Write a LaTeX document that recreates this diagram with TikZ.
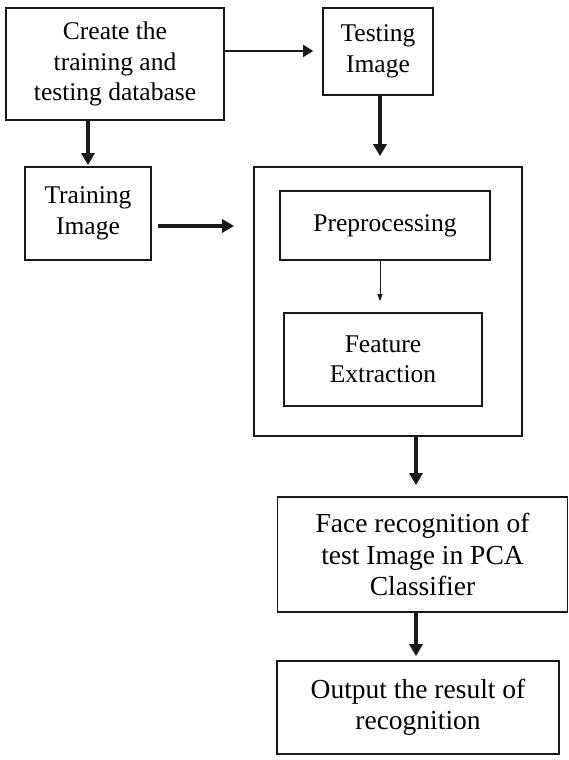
\documentclass[tikz,border=0pt]{standalone}
\usepackage{fontspec}
\setmainfont{Liberation Serif}
\usetikzlibrary{arrows.meta,calc}
\begin{document}
\begin{tikzpicture}[x=1pt,y=-1pt,
  box/.style={draw=black!90,line width=1.7pt,inner sep=0pt,align=center,
    font=\fontsize{25.5}{30.5}\selectfont},
  bbox/.style={box,font=\fontsize{27.5}{31.5}\selectfont},
  big/.style={line width=4.5pt,draw=black!90,-{Triangle[width=13pt,length=12pt]}},
  mid/.style={line width=2pt,draw=black!90,-{Triangle[width=12pt,length=10pt]}},
  thin/.style={line width=0.8pt,draw=black!90,-{Triangle[width=5pt,length=7pt]}}]
\useasboundingbox (0,0) rectangle (569,760);
\node[box,minimum width=218pt,minimum height=112pt] (create) at (115,64) {Create the\\training and\\testing database};
\node[box,minimum width=110pt,minimum height=87pt] (test) at (378,51.5) {Testing\\Image};
\node[box,minimum width=126pt,minimum height=93pt] (train) at (88,213.5) {Training\\Image};
\node[box,minimum width=268pt,minimum height=269pt] (bigbox) at (388,301.5) {};
\node[box,minimum width=210pt,minimum height=69pt] (pre) at (385,225.5) {Preprocessing};
\node[box,minimum width=198pt,minimum height=93pt] (feat) at (383,359.5) {Feature\\Extraction};
\node[bbox,minimum width=290pt,minimum height=115pt] (face) at (422.5,554.5) {Face recognition of\\test Image in PCA\\Classifier};
\node[bbox,minimum width=282pt,minimum height=93pt] (out) at (418,707.5) {Output the result of\\recognition};
\coordinate (c1) at (create.east |- 0,51);
\coordinate (t1) at (test.west |- 0,51);
\draw[mid,shorten >=9pt] (c1) -- (t1);
\draw[big,shorten >=1pt] (train.north |- create.south) -- (train.north);
\coordinate (ts) at (380,0);
\draw[big,shorten >=10pt] (ts |- test.south) -- (ts |- bigbox.north);
\coordinate (ty) at (0,226);
\draw[big,shorten <=6pt,shorten >=19pt] (train.east |- ty) -- (bigbox.west |- ty);
\draw[thin,shorten >=11pt] (ts |- pre.south) -- (ts |- feat.north);
\coordinate (bx) at (416,0);
\draw[big,shorten >=11pt] (bx |- bigbox.south) -- (bx |- face.north);
\draw[big,shorten >=4pt] (bx |- face.south) -- (bx |- out.north);
\end{tikzpicture}
\end{document}
